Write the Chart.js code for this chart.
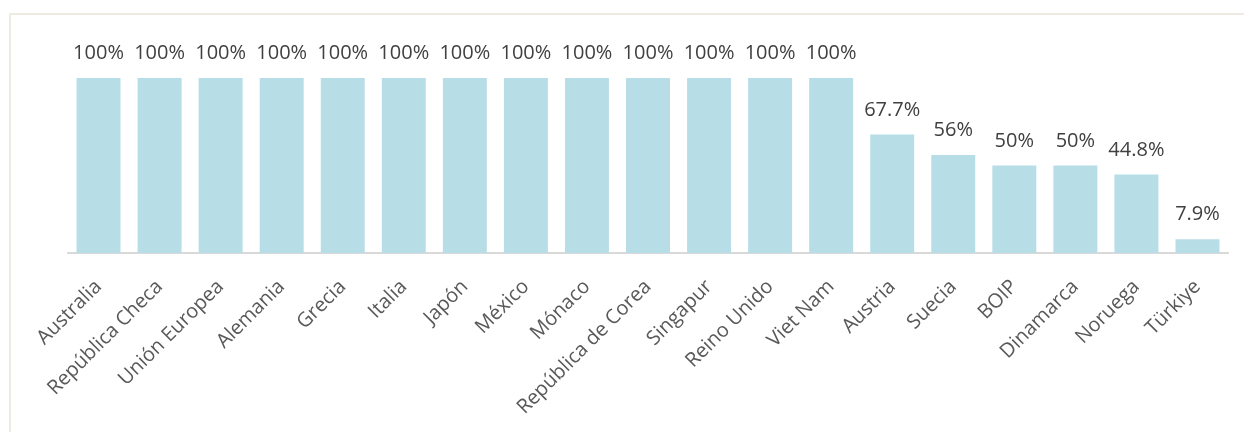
<!DOCTYPE html>
<html lang="es">
<head>
    <meta charset="UTF-8">
    <title>Porcentaje por país</title>
    <script src="https://cdn.jsdelivr.net/npm/chart.js"></script>
    <style>
    body {
        margin: 0;
        background-color: #ffffff;
        font-family: "Open Sans", sans-serif;
    }
    .frame {
        position: absolute;
        left: 9px;
        top: 13px;
        right: 0;
        bottom: 0;
        border-top: 2px solid #eeebe2;
        border-left: 2px solid #eeebe2;
    }
    .chart-box {
        position: absolute;
        left: 0;
        top: 0;
        width: 1244px;
        height: 432px;
    }
</style>
</head>
<body>
    <div class="frame"></div>
    <div class="chart-box">
        <canvas id="bar-chart" width="1244" height="432"></canvas>
    </div>
    <script>
    // categories and values
    const countries = ['Australia', 'República Checa', 'Unión Europea', 'Alemania', 'Grecia', 'Italia',
        'Japón', 'México', 'Mónaco', 'República de Corea', 'Singapur', 'Reino Unido', 'Viet Nam',
        'Austria', 'Suecia', 'BOIP', 'Dinamarca', 'Noruega', 'Türkiye'];
    const shares = [100, 100, 100, 100, 100, 100, 100, 100, 100, 100, 100, 100, 100,
        67.7, 56, 50, 50, 44.8, 7.9];

    // value labels above each bar
    const barLabels = {
        id: 'barLabels',
        afterDatasetsDraw(chart) {
            const ctx = chart.ctx;
            const meta = chart.getDatasetMeta(0);
            ctx.save();
            ctx.font = '20px "Open Sans", sans-serif';
            ctx.fillStyle = '#404040';
            ctx.textAlign = 'center';
            ctx.textBaseline = 'alphabetic';
            meta.data.forEach((bar, i) => {
                ctx.fillText(shares[i] + '%', bar.x, bar.y - 19);
            });
            ctx.restore();
        }
    };

    var ctx = document.getElementById('bar-chart').getContext('2d');
    var chart = new Chart(ctx, {
        type: 'bar',
        data: {
            labels: countries,
            datasets: [{
                data: shares,
                backgroundColor: '#b7dde7',
                borderWidth: 0,
                categoryPercentage: 1,
                barPercentage: 0.72
            }]
        },
        options: {
            responsive: false,
            animation: false,
            devicePixelRatio: 1,
            layout: {
                padding: { left: 68, right: 16, top: 78, bottom: 0 }
            },
            plugins: {
                legend: { display: false },
                tooltip: { enabled: false }
            },
            scales: {
                x: {
                    grid: { display: false, drawTicks: false },
                    border: { display: true, color: '#d9d9d9', width: 2 },
                    ticks: {
                        color: '#595959',
                        font: { family: '"Open Sans", sans-serif', size: 20 },
                        minRotation: 45,
                        maxRotation: 45,
                        autoSkip: false,
                        padding: 22
                    },
                    afterFit(scale) {
                        scale.height = 179;
                    }
                },
                y: {
                    display: false,
                    min: 0,
                    max: 100,
                    afterFit(scale) {
                        scale.width = 0;
                    }
                }
            }
        },
        plugins: [barLabels]
    });
    </script>
</body>
</html>
